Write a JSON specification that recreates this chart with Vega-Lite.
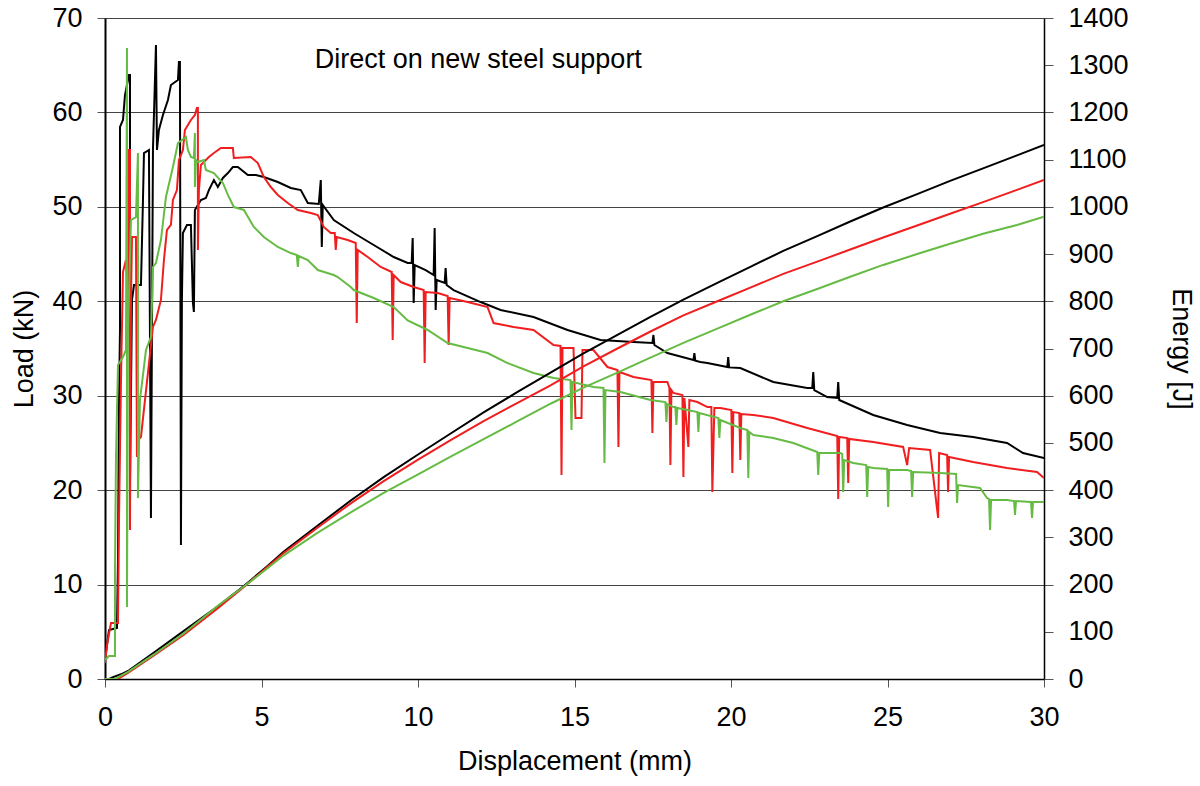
{
"$schema": "https://vega.github.io/schema/vega-lite/v6.json",
"width": 939, "height": 661,
"autosize": {"type": "none"},
"padding": {"left": 105, "top": 18, "right": 156, "bottom": 107},
"config": {"font": "Liberation Sans", "view": {"stroke": null},
  "axis": {"labelFontSize": 27, "titleFontSize": 27, "titleFontWeight": "normal", "labelColor": "#000", "titleColor": "#000", "tickColor": "#555", "domainColor": "#000"}},
"datasets": {
"load": [
{"s":"A","x":0,"y":2.01},{"s":"A","x":0.064,"y":3.6},{"s":"A","x":0.128,"y":5.19},{"s":"A","x":0.383,"y":5.4},{"s":"A","x":0.415,"y":12.6},{"s":"A","x":0.447,"y":29.55},{"s":"A","x":0.479,"y":36.96},{"s":"A","x":0.479,"y":58.46},{"s":"A","x":0.574,"y":59.2},{"s":"A","x":0.638,"y":61.84},{"s":"A","x":0.766,"y":63.96},{"s":"A","x":0.798,"y":63.96},{"s":"A","x":0.798,"y":20.54},{"s":"A","x":0.862,"y":40.14},{"s":"A","x":0.926,"y":41.72},{"s":"A","x":1.149,"y":41.72},{"s":"A","x":1.213,"y":50.73},{"s":"A","x":1.245,"y":55.7},{"s":"A","x":1.404,"y":56.02},{"s":"A","x":1.468,"y":17.05},{"s":"A","x":1.532,"y":56.02},{"s":"A","x":1.628,"y":67.14},{"s":"A","x":1.66,"y":56.02},{"s":"A","x":1.723,"y":58.14},{"s":"A","x":1.851,"y":59.73},{"s":"A","x":2.011,"y":61.32},{"s":"A","x":2.106,"y":62.9},{"s":"A","x":2.33,"y":63.43},{"s":"A","x":2.362,"y":65.34},{"s":"A","x":2.394,"y":65.34},{"s":"A","x":2.426,"y":14.19},{"s":"A","x":2.457,"y":40.14},{"s":"A","x":2.489,"y":47.23},{"s":"A","x":2.617,"y":48.08},{"s":"A","x":2.745,"y":48.08},{"s":"A","x":2.809,"y":39.82},{"s":"A","x":2.84,"y":38.87},{"s":"A","x":2.872,"y":49.67},{"s":"A","x":3.064,"y":50.73},{"s":"A","x":3.223,"y":50.94},{"s":"A","x":3.319,"y":51.78},{"s":"A","x":3.479,"y":52.84},{"s":"A","x":3.606,"y":52.1},{"s":"A","x":3.766,"y":53.06},{"s":"A","x":3.926,"y":53.58},{"s":"A","x":4.085,"y":54.22},{"s":"A","x":4.245,"y":54.22},{"s":"A","x":4.564,"y":53.37},{"s":"A","x":4.819,"y":53.37},{"s":"A","x":5.074,"y":53.16},{"s":"A","x":5.521,"y":52.63},{"s":"A","x":5.936,"y":52.0},{"s":"A","x":6.255,"y":51.78},{"s":"A","x":6.479,"y":50.41},{"s":"A","x":6.83,"y":50.31},{"s":"A","x":6.894,"y":52.84},{"s":"A","x":6.926,"y":45.75},{"s":"A","x":6.957,"y":50.2},{"s":"A","x":7.309,"y":48.61},{"s":"A","x":7.947,"y":47.23},{"s":"A","x":8.585,"y":45.96},{"s":"A","x":9.223,"y":44.69},{"s":"A","x":9.67,"y":44.05},{"s":"A","x":9.798,"y":44.05},{"s":"A","x":9.83,"y":46.7},{"s":"A","x":9.862,"y":39.82},{"s":"A","x":9.894,"y":43.84},{"s":"A","x":10.245,"y":43.31},{"s":"A","x":10.5,"y":42.78},{"s":"A","x":10.532,"y":47.76},{"s":"A","x":10.564,"y":39.08},{"s":"A","x":10.596,"y":42.25},{"s":"A","x":10.851,"y":41.94},{"s":"A","x":10.883,"y":43.52},{"s":"A","x":10.915,"y":41.72},{"s":"A","x":11.138,"y":41.19},{"s":"A","x":12.0,"y":39.92},{"s":"A","x":12.638,"y":39.08},{"s":"A","x":13.691,"y":38.34},{"s":"A","x":14.777,"y":36.96},{"s":"A","x":15.83,"y":35.9},{"s":"A","x":16.883,"y":35.69},{"s":"A","x":17.489,"y":35.58},{"s":"A","x":17.521,"y":36.43},{"s":"A","x":17.553,"y":35.37},{"s":"A","x":17.968,"y":34.52},{"s":"A","x":18.8,"y":33.78},{"s":"A","x":18.83,"y":34.52},{"s":"A","x":18.86,"y":33.7},{"s":"A","x":19.021,"y":33.57},{"s":"A","x":19.245,"y":33.46},{"s":"A","x":19.883,"y":33.04},{"s":"A","x":19.91,"y":34.1},{"s":"A","x":19.94,"y":33.0},{"s":"A","x":20.298,"y":32.93},{"s":"A","x":21.351,"y":31.45},{"s":"A","x":22.436,"y":30.82},{"s":"A","x":22.596,"y":30.82},{"s":"A","x":22.628,"y":32.51},{"s":"A","x":22.66,"y":30.6},{"s":"A","x":23.074,"y":29.86},{"s":"A","x":23.394,"y":29.76},{"s":"A","x":23.426,"y":31.45},{"s":"A","x":23.457,"y":29.55},{"s":"A","x":24.543,"y":27.96},{"s":"A","x":25.628,"y":26.9},{"s":"A","x":26.681,"y":26.05},{"s":"A","x":27.734,"y":25.63},{"s":"A","x":28.819,"y":24.99},{"s":"A","x":29.33,"y":23.93},{"s":"A","x":30,"y":23.4},
{"s":"B","x":0,"y":1.69},{"s":"B","x":0.064,"y":3.6},{"s":"B","x":0.191,"y":5.93},{"s":"B","x":0.415,"y":5.93},{"s":"B","x":0.447,"y":16.84},{"s":"B","x":0.511,"y":31.66},{"s":"B","x":0.574,"y":43.1},{"s":"B","x":0.67,"y":44.37},{"s":"B","x":0.734,"y":40.14},{"s":"B","x":0.766,"y":56.02},{"s":"B","x":0.798,"y":56.02},{"s":"B","x":0.798,"y":15.78},{"s":"B","x":0.83,"y":40.14},{"s":"B","x":0.862,"y":46.81},{"s":"B","x":0.989,"y":46.81},{"s":"B","x":1.021,"y":23.51},{"s":"B","x":1.053,"y":25.31},{"s":"B","x":1.149,"y":25.63},{"s":"B","x":1.532,"y":37.28},{"s":"B","x":1.628,"y":38.02},{"s":"B","x":1.787,"y":40.14},{"s":"B","x":1.883,"y":44.37},{"s":"B","x":1.979,"y":47.55},{"s":"B","x":2.106,"y":48.08},{"s":"B","x":2.17,"y":50.73},{"s":"B","x":2.298,"y":51.78},{"s":"B","x":2.362,"y":54.96},{"s":"B","x":2.489,"y":56.02},{"s":"B","x":2.553,"y":58.14},{"s":"B","x":2.745,"y":59.2},{"s":"B","x":2.872,"y":59.73},{"s":"B","x":2.936,"y":60.47},{"s":"B","x":2.968,"y":60.47},{"s":"B","x":2.968,"y":45.43},{"s":"B","x":3.0,"y":51.78},{"s":"B","x":3.064,"y":54.43},{"s":"B","x":3.319,"y":55.28},{"s":"B","x":3.479,"y":55.7},{"s":"B","x":3.702,"y":56.23},{"s":"B","x":4.085,"y":56.23},{"s":"B","x":4.117,"y":55.17},{"s":"B","x":4.66,"y":55.28},{"s":"B","x":4.883,"y":54.64},{"s":"B","x":5.074,"y":53.16},{"s":"B","x":5.298,"y":52.1},{"s":"B","x":5.521,"y":51.26},{"s":"B","x":5.84,"y":50.41},{"s":"B","x":6.16,"y":49.67},{"s":"B","x":6.574,"y":49.35},{"s":"B","x":6.798,"y":49.14},{"s":"B","x":6.989,"y":47.87},{"s":"B","x":7.213,"y":47.23},{"s":"B","x":7.34,"y":47.23},{"s":"B","x":7.372,"y":45.43},{"s":"B","x":7.404,"y":46.81},{"s":"B","x":7.755,"y":46.49},{"s":"B","x":8.011,"y":46.17},{"s":"B","x":8.043,"y":37.7},{"s":"B","x":8.074,"y":45.43},{"s":"B","x":8.394,"y":44.69},{"s":"B","x":8.809,"y":43.63},{"s":"B","x":9.16,"y":43.1},{"s":"B","x":9.191,"y":35.9},{"s":"B","x":9.223,"y":42.78},{"s":"B","x":9.447,"y":42.04},{"s":"B","x":9.862,"y":41.51},{"s":"B","x":10.181,"y":41.19},{"s":"B","x":10.213,"y":33.46},{"s":"B","x":10.245,"y":40.98},{"s":"B","x":10.628,"y":40.88},{"s":"B","x":10.947,"y":40.56},{"s":"B","x":10.979,"y":35.37},{"s":"B","x":11.011,"y":40.35},{"s":"B","x":11.585,"y":39.92},{"s":"B","x":12.223,"y":39.39},{"s":"B","x":12.415,"y":37.7},{"s":"B","x":13.053,"y":37.28},{"s":"B","x":13.691,"y":36.96},{"s":"B","x":14.33,"y":35.37},{"s":"B","x":14.553,"y":35.27},{"s":"B","x":14.585,"y":21.6},{"s":"B","x":14.617,"y":35.05},{"s":"B","x":14.968,"y":35.05},{"s":"B","x":15.032,"y":27.64},{"s":"B","x":15.223,"y":27.64},{"s":"B","x":15.255,"y":34.84},{"s":"B","x":15.606,"y":34.84},{"s":"B","x":16.053,"y":33.04},{"s":"B","x":16.372,"y":32.72},{"s":"B","x":16.404,"y":24.57},{"s":"B","x":16.436,"y":32.51},{"s":"B","x":16.883,"y":31.98},{"s":"B","x":17.457,"y":31.66},{"s":"B","x":17.489,"y":26.05},{"s":"B","x":17.521,"y":31.45},{"s":"B","x":17.968,"y":31.45},{"s":"B","x":18.032,"y":30.82},{"s":"B","x":18.064,"y":22.66},{"s":"B","x":18.096,"y":30.6},{"s":"B","x":18.16,"y":30.29},{"s":"B","x":18.447,"y":30.08},{"s":"B","x":18.479,"y":21.39},{"s":"B","x":18.511,"y":29.76},{"s":"B","x":18.638,"y":24.57},{"s":"B","x":18.67,"y":29.55},{"s":"B","x":18.926,"y":29.33},{"s":"B","x":19.245,"y":28.8},{"s":"B","x":19.372,"y":28.8},{"s":"B","x":19.404,"y":19.8},{"s":"B","x":19.468,"y":28.7},{"s":"B","x":19.66,"y":28.7},{"s":"B","x":20.011,"y":28.49},{"s":"B","x":20.043,"y":21.82},{"s":"B","x":20.075,"y":28.27},{"s":"B","x":20.266,"y":28.17},{"s":"B","x":20.298,"y":23.19},{"s":"B","x":20.33,"y":28.06},{"s":"B","x":20.713,"y":27.96},{"s":"B","x":21.351,"y":27.64},{"s":"B","x":22.436,"y":26.58},{"s":"B","x":23.394,"y":25.73},{"s":"B","x":23.426,"y":19.06},{"s":"B","x":23.457,"y":25.63},{"s":"B","x":23.713,"y":25.52},{"s":"B","x":23.745,"y":20.76},{"s":"B","x":23.777,"y":25.42},{"s":"B","x":24.543,"y":25.1},{"s":"B","x":25.5,"y":24.57},{"s":"B","x":25.628,"y":22.66},{"s":"B","x":25.691,"y":24.46},{"s":"B","x":26.362,"y":24.25},{"s":"B","x":26.617,"y":17.05},{"s":"B","x":26.649,"y":23.93},{"s":"B","x":26.904,"y":23.72},{"s":"B","x":26.936,"y":19.8},{"s":"B","x":26.968,"y":23.51},{"s":"B","x":27.734,"y":22.98},{"s":"B","x":28.819,"y":22.34},{"s":"B","x":29.777,"y":21.92},{"s":"B","x":30,"y":21.29},
{"s":"C","x":0,"y":2.01},{"s":"C","x":0.128,"y":2.44},{"s":"C","x":0.319,"y":2.44},{"s":"C","x":0.319,"y":11.54},{"s":"C","x":0.351,"y":23.51},{"s":"C","x":0.415,"y":33.25},{"s":"C","x":0.574,"y":34.1},{"s":"C","x":0.67,"y":34.84},{"s":"C","x":0.702,"y":66.82},{"s":"C","x":0.702,"y":7.62},{"s":"C","x":0.734,"y":36.96},{"s":"C","x":0.83,"y":48.61},{"s":"C","x":0.989,"y":48.92},{"s":"C","x":1.053,"y":55.7},{"s":"C","x":1.053,"y":19.17},{"s":"C","x":1.117,"y":29.55},{"s":"C","x":1.309,"y":34.84},{"s":"C","x":1.468,"y":36.22},{"s":"C","x":1.532,"y":43.63},{"s":"C","x":1.628,"y":44.05},{"s":"C","x":1.787,"y":46.49},{"s":"C","x":1.851,"y":48.29},{"s":"C","x":1.947,"y":51.04},{"s":"C","x":2.17,"y":54.22},{"s":"C","x":2.33,"y":56.76},{"s":"C","x":2.585,"y":57.4},{"s":"C","x":2.649,"y":56.02},{"s":"C","x":2.745,"y":55.28},{"s":"C","x":2.84,"y":55.17},{"s":"C","x":2.872,"y":57.82},{"s":"C","x":2.872,"y":52.1},{"s":"C","x":2.904,"y":54.96},{"s":"C","x":2.968,"y":54.75},{"s":"C","x":3.16,"y":54.96},{"s":"C","x":3.223,"y":53.9},{"s":"C","x":3.479,"y":53.58},{"s":"C","x":3.766,"y":52.53},{"s":"C","x":3.926,"y":51.26},{"s":"C","x":4.117,"y":49.98},{"s":"C","x":4.436,"y":49.67},{"s":"C","x":4.755,"y":47.87},{"s":"C","x":5.074,"y":46.81},{"s":"C","x":5.521,"y":45.75},{"s":"C","x":5.936,"y":45.11},{"s":"C","x":6.128,"y":44.9},{"s":"C","x":6.16,"y":43.63},{"s":"C","x":6.191,"y":44.79},{"s":"C","x":6.479,"y":44.37},{"s":"C","x":6.798,"y":43.31},{"s":"C","x":7.309,"y":42.78},{"s":"C","x":7.436,"y":42.57},{"s":"C","x":7.851,"y":41.51},{"s":"C","x":7.947,"y":41.19},{"s":"C","x":8.585,"y":40.35},{"s":"C","x":9.223,"y":39.39},{"s":"C","x":9.67,"y":37.98},{"s":"C","x":10.309,"y":36.96},{"s":"C","x":10.947,"y":35.58},{"s":"C","x":11.585,"y":35.05},{"s":"C","x":12.223,"y":34.52},{"s":"C","x":12.862,"y":33.46},{"s":"C","x":13.691,"y":32.41},{"s":"C","x":14.33,"y":31.88},{"s":"C","x":14.872,"y":31.66},{"s":"C","x":14.904,"y":26.37},{"s":"C","x":14.936,"y":31.45},{"s":"C","x":15.606,"y":30.92},{"s":"C","x":15.926,"y":30.82},{"s":"C","x":15.957,"y":22.87},{"s":"C","x":15.989,"y":30.6},{"s":"C","x":16.468,"y":30.39},{"s":"C","x":17.426,"y":29.55},{"s":"C","x":17.904,"y":29.33},{"s":"C","x":17.936,"y":27.22},{"s":"C","x":17.968,"y":29.12},{"s":"C","x":18.16,"y":28.8},{"s":"C","x":18.223,"y":28.8},{"s":"C","x":18.255,"y":26.9},{"s":"C","x":18.287,"y":28.7},{"s":"C","x":18.926,"y":28.27},{"s":"C","x":18.957,"y":26.16},{"s":"C","x":18.989,"y":28.17},{"s":"C","x":19.596,"y":27.64},{"s":"C","x":19.628,"y":25.52},{"s":"C","x":19.66,"y":27.43},{"s":"C","x":20.298,"y":26.58},{"s":"C","x":20.521,"y":26.37},{"s":"C","x":20.553,"y":21.29},{"s":"C","x":20.585,"y":26.16},{"s":"C","x":20.713,"y":25.84},{"s":"C","x":21.351,"y":25.52},{"s":"C","x":21.989,"y":24.99},{"s":"C","x":22.755,"y":24.04},{"s":"C","x":22.787,"y":21.6},{"s":"C","x":22.819,"y":23.93},{"s":"C","x":23.489,"y":23.93},{"s":"C","x":23.553,"y":23.83},{"s":"C","x":23.585,"y":19.8},{"s":"C","x":23.617,"y":23.19},{"s":"C","x":23.904,"y":22.87},{"s":"C","x":24.319,"y":22.66},{"s":"C","x":24.351,"y":19.27},{"s":"C","x":24.383,"y":22.45},{"s":"C","x":24.543,"y":22.34},{"s":"C","x":24.989,"y":22.24},{"s":"C","x":25.021,"y":18.21},{"s":"C","x":25.053,"y":22.13},{"s":"C","x":25.628,"y":22.13},{"s":"C","x":25.755,"y":22.03},{"s":"C","x":25.787,"y":19.27},{"s":"C","x":25.819,"y":21.92},{"s":"C","x":26.681,"y":21.82},{"s":"C","x":27.191,"y":21.71},{"s":"C","x":27.223,"y":18.64},{"s":"C","x":27.255,"y":20.54},{"s":"C","x":27.957,"y":20.23},{"s":"C","x":28.181,"y":19.17},{"s":"C","x":28.245,"y":19.06},{"s":"C","x":28.277,"y":15.78},{"s":"C","x":28.309,"y":18.96},{"s":"C","x":28.819,"y":18.96},{"s":"C","x":29.043,"y":18.85},{"s":"C","x":29.074,"y":17.37},{"s":"C","x":29.106,"y":18.85},{"s":"C","x":29.585,"y":18.74},{"s":"C","x":29.617,"y":17.05},{"s":"C","x":29.649,"y":18.74},{"s":"C","x":30,"y":18.74}
],
"energy": [
{"s":"A","x":0,"y":0},{"s":"A","x":0.128,"y":0},{"s":"A","x":0.255,"y":4},{"s":"A","x":0.511,"y":10},{"s":"A","x":0.734,"y":17},{"s":"A","x":1.564,"y":56},{"s":"A","x":2.521,"y":102},{"s":"A","x":3.606,"y":154},{"s":"A","x":4.436,"y":197},{"s":"A","x":5.202,"y":240},{"s":"A","x":5.713,"y":270},{"s":"A","x":6.798,"y":325},{"s":"A","x":7.851,"y":378},{"s":"A","x":8.904,"y":427.6},{"s":"A","x":9.989,"y":475},{"s":"A","x":11.043,"y":520},{"s":"A","x":12.096,"y":564.6},{"s":"A","x":13.181,"y":608},{"s":"A","x":14.234,"y":649},{"s":"A","x":15.287,"y":689.6},{"s":"A","x":16.372,"y":729},{"s":"A","x":17.426,"y":767},{"s":"A","x":18.479,"y":803.6},{"s":"A","x":19.564,"y":839},{"s":"A","x":20.617,"y":873},{"s":"A","x":21.67,"y":906.6},{"s":"A","x":22.755,"y":938},{"s":"A","x":23.809,"y":969},{"s":"A","x":24.862,"y":998.6},{"s":"A","x":25.947,"y":1027},{"s":"A","x":27.0,"y":1055},{"s":"A","x":28.053,"y":1081.6},{"s":"A","x":29.138,"y":1109},{"s":"A","x":30,"y":1131},
{"s":"B","x":0,"y":0},{"s":"B","x":0.415,"y":0},{"s":"B","x":0.734,"y":13},{"s":"B","x":1.564,"y":50},{"s":"B","x":2.521,"y":94},{"s":"B","x":3.606,"y":150},{"s":"B","x":4.436,"y":195},{"s":"B","x":5.202,"y":238},{"s":"B","x":5.713,"y":267},{"s":"B","x":6.798,"y":321},{"s":"B","x":7.851,"y":372},{"s":"B","x":8.904,"y":419.2},{"s":"B","x":9.989,"y":464},{"s":"B","x":11.043,"y":506},{"s":"B","x":12.096,"y":546},{"s":"B","x":13.181,"y":585},{"s":"B","x":14.234,"y":622},{"s":"B","x":15.287,"y":662},{"s":"B","x":16.372,"y":700},{"s":"B","x":17.426,"y":736},{"s":"B","x":18.479,"y":770},{"s":"B","x":19.564,"y":800},{"s":"B","x":20.617,"y":829},{"s":"B","x":21.67,"y":858},{"s":"B","x":22.755,"y":884},{"s":"B","x":23.809,"y":909.6},{"s":"B","x":24.862,"y":935},{"s":"B","x":25.947,"y":960.5},{"s":"B","x":27.0,"y":985.3},{"s":"B","x":28.053,"y":1010},{"s":"B","x":29.138,"y":1036},{"s":"B","x":30,"y":1057},
{"s":"C","x":0,"y":0},{"s":"C","x":0.319,"y":0},{"s":"C","x":0.734,"y":15},{"s":"C","x":1.564,"y":52},{"s":"C","x":2.521,"y":97},{"s":"C","x":3.606,"y":155},{"s":"C","x":4.436,"y":196},{"s":"C","x":5.202,"y":235},{"s":"C","x":5.713,"y":262},{"s":"C","x":6.798,"y":310},{"s":"C","x":7.851,"y":353},{"s":"C","x":8.904,"y":394},{"s":"C","x":9.989,"y":433},{"s":"C","x":11.043,"y":471},{"s":"C","x":12.096,"y":508},{"s":"C","x":13.181,"y":546},{"s":"C","x":14.234,"y":583},{"s":"C","x":15.287,"y":617},{"s":"C","x":16.372,"y":649},{"s":"C","x":17.426,"y":680.5},{"s":"C","x":18.479,"y":712},{"s":"C","x":19.564,"y":742},{"s":"C","x":20.617,"y":771.5},{"s":"C","x":21.67,"y":800},{"s":"C","x":22.755,"y":826},{"s":"C","x":23.809,"y":852},{"s":"C","x":24.862,"y":877},{"s":"C","x":25.947,"y":900},{"s":"C","x":27.0,"y":922},{"s":"C","x":28.053,"y":943},{"s":"C","x":29.138,"y":961.5},{"s":"C","x":30,"y":979}
],
"note": [{"x": 6.7, "y": 64.7, "t": "Direct on new steel support"}]
},
"layer": [
{"data": {"name": "load"}, "mark": {"type": "line", "strokeWidth": 2, "clip": true},
 "encoding": {
  "x": {"field": "x", "type": "quantitative", "scale": {"domain": [0, 30], "nice": false},
        "axis": {"title": "Displacement (mm)", "values": [0,5,10,15,20,25,30], "grid": false, "tickSize": 8, "labelPadding": 17, "titlePadding": 18, "domainWidth": 1.5, "labelFlush": false}},
  "y": {"field": "y", "type": "quantitative", "scale": {"domain": [0, 70], "nice": false},
        "axis": {"title": "Load (kN)", "values": [0,10,20,30,40,50,60,70], "grid": true, "gridColor": "#444", "gridWidth": 1, "tickSize": 8, "labelPadding": 15, "titlePadding": 13, "domainWidth": 2}},
  "color": {"field": "s", "type": "nominal", "scale": {"domain": ["A","B","C"], "range": ["#000000", "#f01e1e", "#66bb44"]}, "legend": null},
  "order": {"value": null}
 }},
{"data": {"name": "energy"}, "mark": {"type": "line", "strokeWidth": 2, "clip": true},
 "encoding": {
  "x": {"field": "x", "type": "quantitative", "scale": {"domain": [0, 30], "nice": false}},
  "y": {"field": "y", "type": "quantitative", "scale": {"domain": [0, 1400], "nice": false},
        "axis": {"orient": "right", "title": "Energy [J]", "format": "d", "values": [0,100,200,300,400,500,600,700,800,900,1000,1100,1200,1300,1400], "grid": false, "tickSize": 9, "labelPadding": 15, "titlePadding": 38, "domainWidth": 1.5}},
  "color": {"field": "s", "type": "nominal", "legend": null},
  "order": {"value": null}
 }},
{"data": {"name": "note"}, "mark": {"type": "text", "align": "left", "baseline": "alphabetic", "fontSize": 27, "color": "#000"},
 "encoding": {
  "x": {"field": "x", "type": "quantitative", "scale": {"domain": [0, 30], "nice": false}},
  "y": {"field": "y", "type": "quantitative", "scale": {"domain": [0, 70], "nice": false}, "axis": null},
  "text": {"field": "t"}
 }}
],
"resolve": {"scale": {"y": "independent"}}
}
